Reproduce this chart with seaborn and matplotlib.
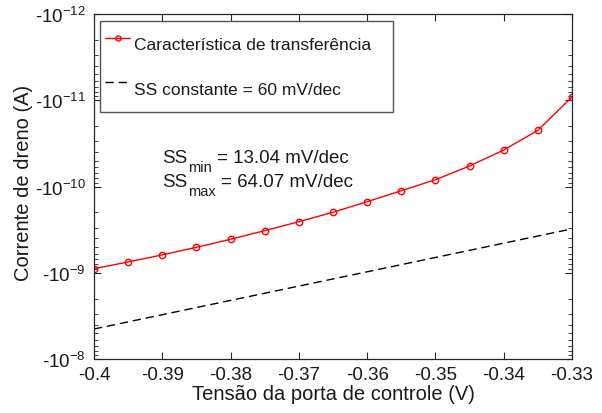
import numpy as np
import pandas as pd
import matplotlib
matplotlib.use("Agg")
import matplotlib.pyplot as plt
import seaborn as sns
from matplotlib.ticker import FixedLocator, LogLocator, NullFormatter

# Gate voltage sweep (V) and drain current magnitude (A)
vg = [-0.400, -0.395, -0.390, -0.385, -0.380, -0.375, -0.370, -0.365,
      -0.360, -0.355, -0.350, -0.345, -0.340, -0.335, -0.330]
id_abs = [8.97e-10, 7.50e-10, 6.20e-10, 5.07e-10, 4.09e-10, 3.25e-10,
          2.56e-10, 1.99e-10, 1.50e-10, 1.12e-10, 8.34e-11, 5.78e-11,
          3.78e-11, 2.23e-11, 9.16e-12]

# Reference line for a constant 60 mV/dec swing
ref_vg = [-0.400, -0.330]
ref_id = [4.49e-9, 3.10e-10]

x_ticks = [-0.40, -0.39, -0.38, -0.37, -0.36, -0.35, -0.34, -0.33]
x_tick_labels = ["-0.4", "-0.39", "-0.38", "-0.37", "-0.36", "-0.35", "-0.34", "-0.33"]
y_ticks = [1e-12, 1e-11, 1e-10, 1e-9, 1e-8]
y_tick_labels = ["-10$^{-12}$", "-10$^{-11}$", "-10$^{-10}$", "-10$^{-9}$", "-10$^{-8}$"]

sns.set_theme(style="ticks")
plt.rcParams["font.family"] = ["Liberation Sans", "DejaVu Sans"]
plt.rcParams["mathtext.fontset"] = "custom"
plt.rcParams["mathtext.rm"] = "Liberation Sans"
plt.rcParams["mathtext.it"] = "Liberation Sans"
plt.rcParams["axes.unicode_minus"] = False

W, H = 602, 414
fig = plt.figure(figsize=(W / 100, H / 100), dpi=100)
ax = fig.add_axes([94 / W, 1 - 360 / H, 478 / W, 345 / H])

df = pd.DataFrame({"vg": vg, "id": id_abs})
ref = pd.DataFrame({"vg": ref_vg, "id": ref_id})

sns.lineplot(data=df, x="vg", y="id", ax=ax, color="#ff0000", lw=1.0,
             marker="o", markersize=4.6, markerfacecolor="none",
             markeredgecolor="#ff0000", markeredgewidth=1.0,
             label="Característica de transferência")
sns.lineplot(data=ref, x="vg", y="id", ax=ax, color="black", lw=1.0,
             label="SS constante = 60 mV/dec")
ax.lines[1].set_linestyle((0, (6, 3.5)))

ax.set_yscale("log")
ax.set_xlim(-0.40, -0.33)
ax.set_ylim(1e-8, 1e-12)

ax.xaxis.set_major_locator(FixedLocator(x_ticks))
ax.set_xticklabels(x_tick_labels)
ax.yaxis.set_major_locator(FixedLocator(y_ticks))
ax.set_yticklabels(y_tick_labels)
ax.yaxis.set_minor_locator(LogLocator(base=10, subs=np.arange(2, 10), numticks=20))
ax.yaxis.set_minor_formatter(NullFormatter())

edge = "#262626"
for s in ax.spines.values():
    s.set_visible(True)
    s.set_color(edge)
    s.set_linewidth(0.9)
ax.tick_params(which="both", direction="in", top=True, right=True,
               color=edge, labelsize=13.5, labelcolor="#1a1a1a")
ax.tick_params(axis="x", which="major", length=5, width=0.8, pad=5)
ax.tick_params(axis="y", which="major", length=5, width=0.8, pad=6)
ax.tick_params(which="minor", length=3, width=0.6)

ax.set_xlabel("Tensão da porta de controle (V)", fontsize=14.5, color="#1a1a1a")
ax.set_ylabel("Corrente de dreno (A)", fontsize=14.5, color="#1a1a1a")
ax.xaxis.set_label_coords((333 - 94) / 478, (360 - 385) / 345)
ax.yaxis.set_label_coords((33 - 94) / 478, (360 - 183) / 345)

leg_box = ((100 - 94) / 478, (360 - 112) / 345, 293 / 478, 90 / 345)
leg = ax.legend(loc="upper left", bbox_to_anchor=leg_box, mode="expand",
                fontsize=12.5, frameon=True, fancybox=False, framealpha=1,
                edgecolor="#555555", handlelength=1.45, handleheight=2.75,
                handletextpad=0.2, labelspacing=0.55, borderpad=0.3,
                borderaxespad=0.0, markerscale=0.8)
leg.get_frame().set_linewidth(1.0)
for t in leg.get_texts():
    t.set_color("#1a1a1a")

# Swing annotations with offset subscripts
fig.canvas.draw()
renderer = fig.canvas.get_renderer()


def swing_label(x_px, base_px, sub, rest):
    main = fig.text(x_px / W, 1 - base_px / H, "SS", fontsize=13.5,
                    ha="left", va="baseline", color="#1a1a1a")
    x1 = main.get_window_extent(renderer).x1 + 1
    subt = fig.text(x1 / W, 1 - (base_px + 9) / H, sub, fontsize=10.5,
                    ha="left", va="baseline", color="#1a1a1a")
    x2 = subt.get_window_extent(renderer).x1 + 5
    fig.text(x2 / W, 1 - base_px / H, rest, fontsize=13.5,
             ha="left", va="baseline", color="#1a1a1a")


swing_label(162, 163, "min", "= 13.04 mV/dec")
swing_label(162, 187, "max", "= 64.07 mV/dec")

fig.savefig("out.png", dpi=100)
